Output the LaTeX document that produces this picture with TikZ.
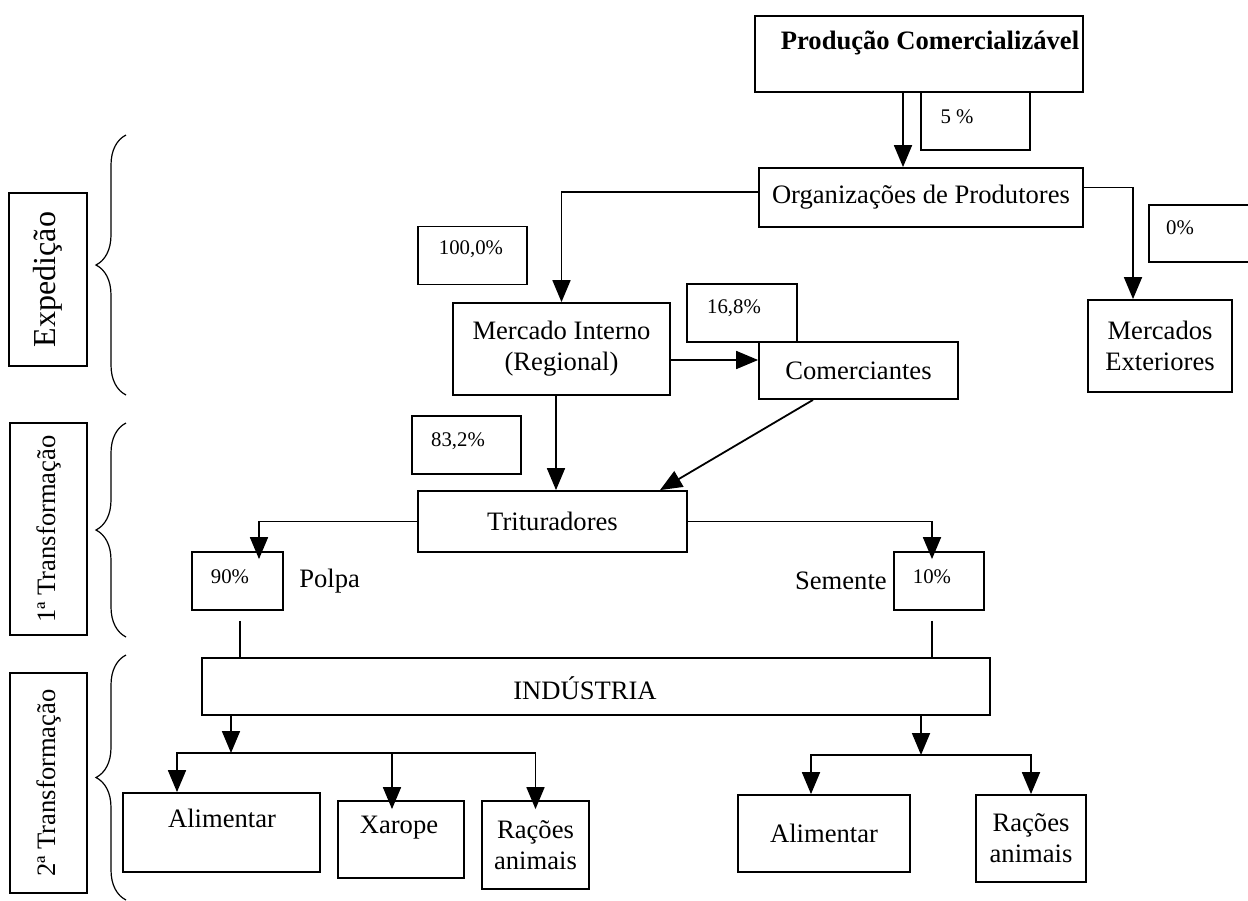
\documentclass[tikz,border=0pt]{standalone}
\usepackage{fontspec}
\setmainfont{Liberation Serif}
\usetikzlibrary{positioning,arrows.meta,decorations.pathreplacing}

\begin{document}
\begin{tikzpicture}[
    x=0.5pt, y=-0.5pt,
    % Estilos de caixas, textos e setas
    caixa/.style={draw, line width=0.9pt, inner sep=0pt, align=center, font=\fontsize{13.3}{15.5}\selectfont},
    pct/.style={draw, line width=0.9pt, inner sep=0pt, minimum width=54.5pt, minimum height=29pt},
    txtp/.style={inner sep=0pt, font=\fontsize{10.4}{12}\selectfont},
    txt/.style={inner sep=0pt, font=\fontsize{13.3}{15.5}\selectfont},
    lado/.style={draw, line width=0.9pt, rotate=90, inner sep=0pt, font=\fontsize{13.3}{15.5}\selectfont},
    seta/.style={line width=0.9pt, -{Triangle[width=9pt,length=11pt]}},
    linha/.style={line width=0.9pt},
    chave/.style={decorate, decoration={brace, amplitude=15pt}, line width=0.6pt}
  ]

  \useasboundingbox (0,0) rectangle (1248,900);
  \clip (0,0) rectangle (1248,900);

  % 1. Etiquetas laterais (fases)
  \node[lado, minimum width=86.5pt, minimum height=39pt, font=\fontsize{16}{18}\selectfont] (exp) at (48,279.5) {Expedição};
  \node[lado, minimum width=106pt, minimum height=38.5pt] (tr1) at (48.5,529) {1ª Transformação};
  \node[lado, minimum width=110pt, minimum height=38.5pt] (tr2) at (48.5,783) {2ª Transformação};

  % chaves
  \draw[chave] (126,395) -- (126,135);
  \draw[chave] (126,637) -- (126,423);
  \draw[chave] (126,900) -- (126,655);

  % 2. Expedição
  \node[caixa, minimum width=164pt, minimum height=38pt] (prod) at (919,54) {};
  \node[txt, font=\fontsize{13.3}{15.5}\selectfont\bfseries] at (930,43) {Produção Comercializável};
  \node[pct] (p5) at (975.5,121) {};
  \node[txtp] at (957,117) {5 \%};
  \node[caixa, minimum width=162pt, minimum height=29.5pt] (org) at (921,197.5) {Organizações de Produtores};
  \node[pct, minimum width=56pt, minimum height=28.5pt] (p0) at (1205,233.5) {};
  \node[txtp] at (1180,228) {0\%};
  \node[caixa, minimum width=72pt, minimum height=46pt] (mext) at (1160,346) {Mercados\\Exteriores};
  \node[pct] (p100) at (472.5,255.5) {};
  \node[txtp] at (471,249) {100,0\%};
  \node[caixa, minimum width=108.5pt, minimum height=46pt] (mint) at (561.5,349) {Mercado Interno\\(Regional)};
  \node[pct, minimum width=55pt] (p168) at (742,313) {};
  \node[txtp] at (734,308) {16,8\%};
  \node[caixa, minimum width=99.5pt, minimum height=28.5pt] (com) at (858.5,370.5) {Comerciantes};

  % 3. 1a transformação
  \node[pct] (p832) at (466.5,445) {};
  \node[txtp] at (458,441) {83,2\%};
  \node[caixa, minimum width=134.5pt, minimum height=30.5pt] (trit) at (552.5,521.5) {Trituradores};
  \node[pct, minimum width=45.5pt] (p90) at (237.5,581) {};
  \node[txtp] at (230,577) {90\%};
  \node[txt, right=7.5pt of p90] (polpa) {Polpa};
  \node[pct, minimum width=45pt] (p10) at (939,581) {};
  \node[txtp] at (932,577) {10\%};
  \node[txt, left=3pt of p10] (sem) {Semente};

  % 4. 2a transformação
  \node[caixa, minimum width=394pt, minimum height=28.5pt] (ind) at (596,686.5) {};
  \node[txt] at (585,688) {INDÚSTRIA};
  \node[caixa, minimum width=98.5pt, minimum height=39.5pt] (alim1) at (221.5,832.5) {};
  \node[txt] at (222,818) {Alimentar};
  \node[caixa, minimum width=63pt, minimum height=38.5pt] (xar) at (401,839.5) {};
  \node[txt] at (399,828) {Xarope};
  \node[caixa, minimum width=53.5pt, minimum height=44pt] (rac1) at (535.5,845) {Rações\\animais};
  \node[caixa, minimum width=86pt, minimum height=38.5pt] (alim2) at (824,833.5) {Alimentar};
  \node[caixa, minimum width=55pt, minimum height=43.5pt] (rac2) at (1031,838.5) {Rações\\animais};

  % 5. Ligações
  \draw[seta] ([xshift=-8pt]prod.south) -- ([xshift=-8pt]prod.south |- org.north);
  \draw[seta] ([yshift=2.75pt]org.west) -| (mint.north);
  \draw[seta] ([yshift=5pt]org.east) -| ([xshift=-13.5pt]mext.north);
  \draw[seta] ([yshift=-5.5pt]mint.east) -- ([yshift=-5.5pt]mint.east -| com.west);
  \draw[seta] ([xshift=-2.75pt]mint.south) -- ([xshift=-2.75pt]mint.south |- trit.north);
  \draw[seta] ([xshift=-22.75pt]com.south) -- ([xshift=53.75pt]trit.north);
  \draw[seta] (trit.west) -| ([xshift=10.75pt,yshift=-4pt]p90.north);
  \draw[seta] (trit.east) -| ([xshift=-3.5pt,yshift=-4pt]p10.north);
  \draw[linha] ([xshift=1.25pt,yshift=-5pt]p90.south) -- ([xshift=1.25pt]p90.south |- ind.north);
  \draw[linha] ([xshift=-3.5pt,yshift=-5pt]p10.south) -- ([xshift=-3.5pt]p10.south |- ind.north);

  % ramificações da indústria
  \coordinate (jl) at (231,753);
  \coordinate (jr) at (921,755);
  \draw[seta] (ind.south -| jl) -- (jl);
  \draw[seta] (jl) -| ([xshift=-22.25pt]alim1.north);
  \draw[seta] (jl) -| ([xshift=-4.5pt,yshift=-4.5pt]xar.north);
  \draw[seta] (jl) -| ([yshift=-4.5pt]rac1.north);
  \draw[seta] (ind.south -| jr) -- (jr);
  \draw[seta] (jr) -| ([xshift=-6.5pt]alim2.north);
  \draw[seta] (jr) -| (rac2.north);

\end{tikzpicture}
\end{document}
